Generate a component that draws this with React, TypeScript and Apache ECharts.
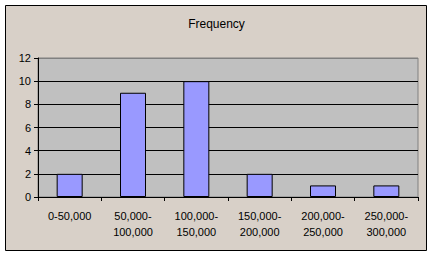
import React, { useEffect, useRef } from "react";
import * as echarts from "echarts";

const categories = ["0-50,000", "50,000-\n100,000", "100,000-\n150,000", "150,000-\n200,000", "200,000-\n250,000", "250,000-\n300,000"];
const frequency = [2, 9, 10, 2, 1, 1];
const title = "Frequency";

export default function App() {
  const ref = useRef<HTMLDivElement>(null);
  useEffect(() => {
    const chart = echarts.init(ref.current!, null, { renderer: "svg" });
    const font = "Arial, 'Liberation Sans', sans-serif";
    chart.setOption({
      animation: false,
      backgroundColor: "#ffffff",
      graphic: [
        {
          type: "rect",
          z: -10,
          shape: { x: 5.5, y: 5.5, width: 421, height: 245 },
          style: { fill: "#d8d0c8", stroke: "#000000", lineWidth: 1 },
        },
      ],
      title: {
        text: title,
        left: "center",
        top: 13,
        textStyle: { fontFamily: font, fontSize: 12, fontWeight: "normal", color: "#000" },
      },
      grid: {
        left: 38,
        top: 58,
        right: 15,
        bottom: 59,
        show: true,
        backgroundColor: "#c0c0c0",
        borderColor: "#808080",
        borderWidth: 1,
      },
      xAxis: {
        type: "category",
        data: categories,
        axisLine: { lineStyle: { color: "#000", width: 1 } },
        axisTick: { show: true, length: 4, alignWithLabel: false, lineStyle: { color: "#000" } },
        axisLabel: {
          interval: 0,
          margin: 11,
          color: "#000",
          fontFamily: font,
          fontSize: 11,
          lineHeight: 16,
        },
      },
      yAxis: {
        type: "value",
        min: 0,
        max: 12,
        interval: 2,
        axisLine: { show: true, lineStyle: { color: "#000", width: 1 } },
        axisTick: { show: true, length: 4, lineStyle: { color: "#000" } },
        axisLabel: { margin: 7, color: "#000", fontFamily: font, fontSize: 11 },
        splitLine: {
          show: true,
          lineStyle: { color: ["#000", "#000", "#000", "#000", "#000", "#000", "#808080"], width: 1 },
        },
      },
      series: [
        {
          type: "bar",
          data: frequency,
          barWidth: 26,
          itemStyle: { color: "#9999ff", borderColor: "#000", borderWidth: 1 },
        },
      ],
    });
    return () => chart.dispose();
  }, []);
  return <div ref={ref} style={{ position: "fixed", left: 0, top: 0, width: 433, height: 256 }} />;
}
